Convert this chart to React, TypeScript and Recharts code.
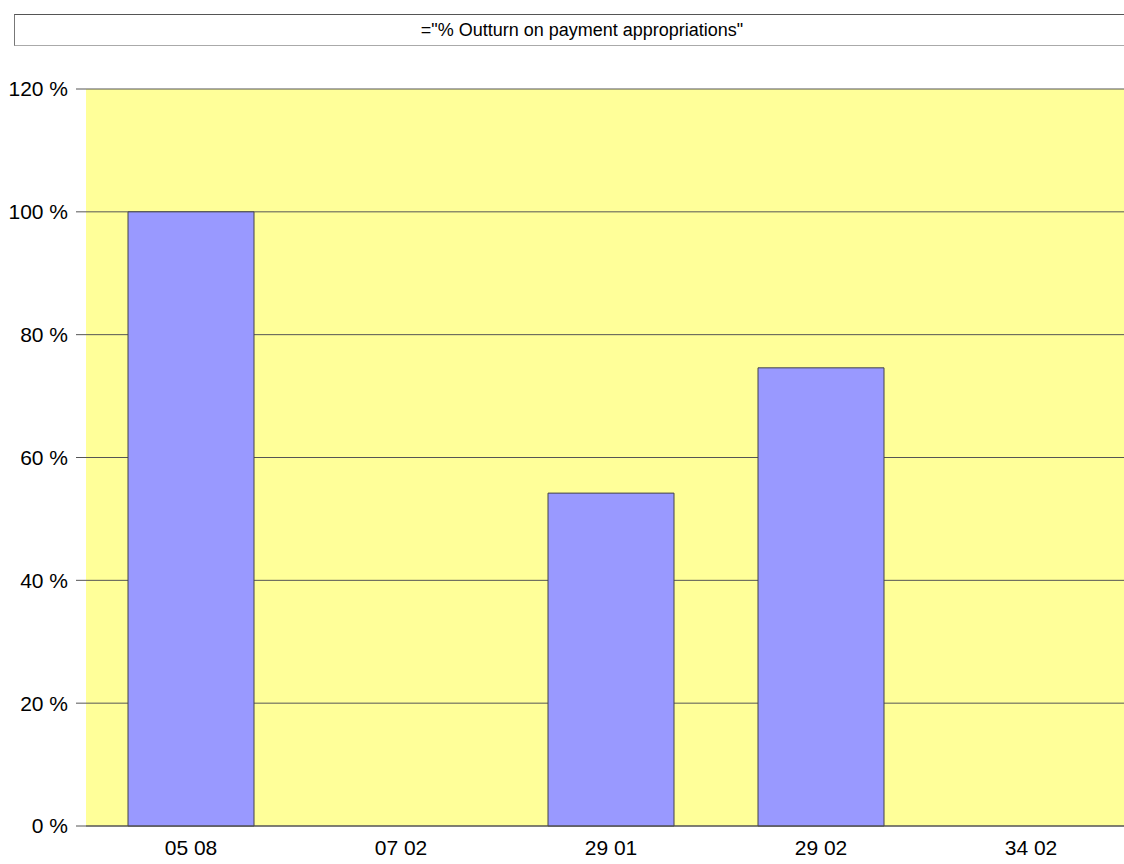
import { BarChart, Bar, XAxis, YAxis, CartesianGrid } from 'recharts'

const CATEGORIES = ['05 08', '07 02', '29 01', '29 02', '34 02']
const OUTTURN = [100, 0, 54.2, 74.6, 0]
const Y_TICKS = [0, 20, 40, 60, 80, 100, 120]

const FONT = '"Liberation Sans", Arial, sans-serif'

export default function App() {
  const data = CATEGORIES.map((name, i) => ({ name, value: OUTTURN[i] }))

  return (
    <div
      style={{
        position: 'absolute',
        left: 0,
        top: 0,
        width: 1124,
        height: 864,
        overflow: 'hidden',
        background: '#fff',
        fontFamily: FONT,
      }}
    >
      <div
        style={{
          position: 'absolute',
          left: 14,
          top: 14,
          width: 1140,
          height: 30,
          borderTop: '1px solid #555',
          borderLeft: '1px solid #777',
          borderBottom: '1px solid #aaa',
          fontSize: 18,
          lineHeight: '30px',
          color: '#000',
        }}
      >
        <span style={{ position: 'absolute', left: 0, width: 1134, textAlign: 'center' }}>
          ="% Outturn on payment appropriations"
        </span>
      </div>
      <div style={{ position: 'absolute', left: 0, top: 0 }}>
        <BarChart
          width={1136}
          height={864}
          data={data}
          margin={{ top: 89, right: 0, bottom: 4, left: 0 }}
          barCategoryGap="20%"
        >
          <CartesianGrid vertical={false} fill="#ffff99" stroke="#555" strokeDasharray="" />
          <XAxis
            dataKey="name"
            height={34}
            tickLine={false}
            tickSize={0}
            tickMargin={14}
            axisLine={{ stroke: '#555' }}
            tick={{ fill: '#000', fontSize: 21, fontFamily: FONT }}
          />
          <YAxis
            width={86}
            domain={[0, 120]}
            ticks={Y_TICKS}
            interval={0}
            axisLine={false}
            tickSize={10}
            tickMargin={8}
            tickLine={{ stroke: '#555' }}
            tickFormatter={(v: number) => `${v} %`}
            tick={{ fill: '#000', fontSize: 21, fontFamily: FONT }}
          />
          <Bar dataKey="value" fill="#9999ff" stroke="#444" strokeWidth={1} isAnimationActive={false} />
        </BarChart>
      </div>
    </div>
  )
}
